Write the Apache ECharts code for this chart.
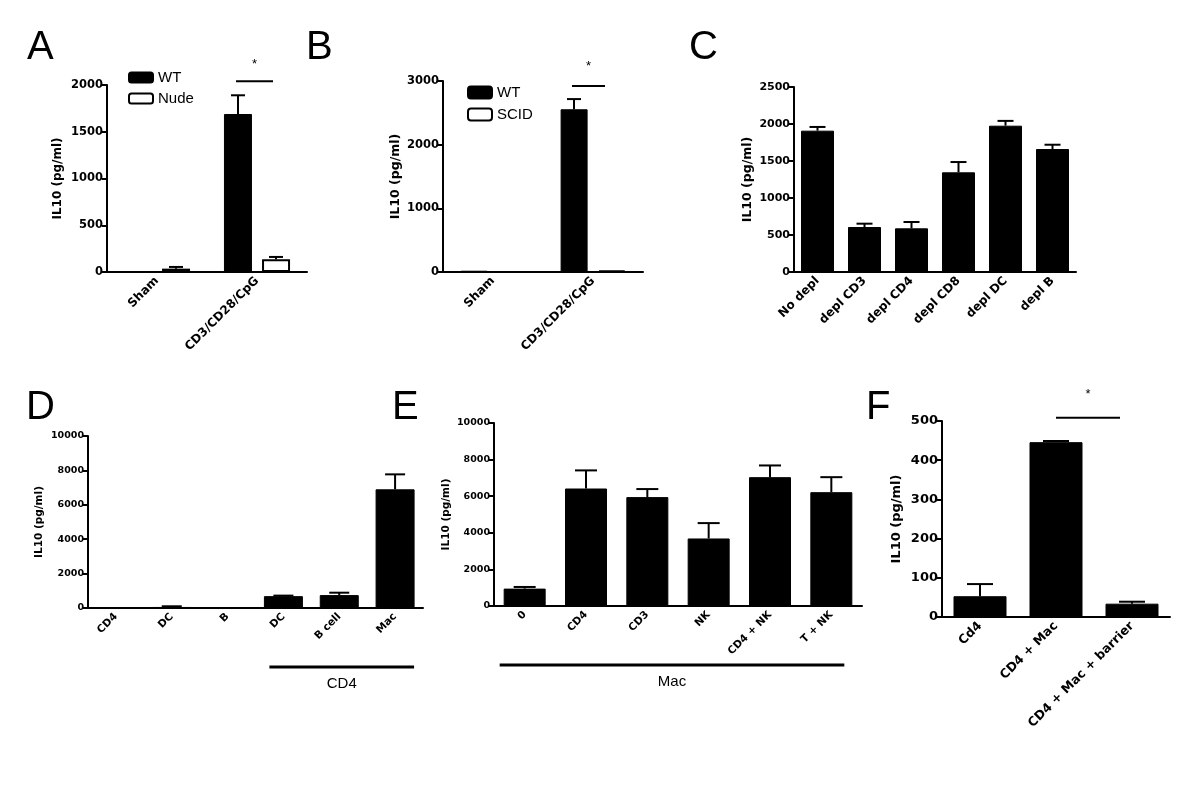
<!DOCTYPE html>
<html>
<head>
<meta charset="utf-8">
<script src="https://cdn.jsdelivr.net/npm/echarts@6/dist/echarts.min.js"></script>
<style>
  html, body { margin: 0; background: #fff; }
  #chart { width: 1200px; height: 794px; }
</style>
</head>
<body>
<div id="chart"></div>
<script>
// panel A
const catsA = ['Sham', 'CD3/CD28/CpG'];
const wtA = [0, 1690];
const wtAErr = [0, 200];
const nudeA = [36, 136];
const nudeAErr = [18, 25];
// panel B
const catsB = ['Sham', 'CD3/CD28/CpG'];
const wtB = [20, 2556];
const wtBErr = [0, 160];
const scidB = [0, 20];
const scidBErr = [0, 0];
// panel C
const catsC = ['No depl', 'depl CD3', 'depl CD4', 'depl CD8', 'depl DC', 'depl B'];
const valsC = [1910, 608, 590, 1347, 1977, 1662];
const errC = [50, 45, 86, 139, 65, 58];
// panel D
const catsD = ['CD4', 'DC', 'B', 'DC', 'B cell', 'Mac'];
const valsD = [0, 60, 0, 690, 750, 6900];
const errD = [0, 40, 0, 30, 140, 870];
// panel E
const catsE = ['0', 'CD4', 'CD3', 'NK', 'CD4 + NK', 'T + NK'];
const valsE = [950, 6420, 5950, 3690, 7040, 6220];
const errE = [90, 990, 440, 840, 640, 820];
// panel F
const catsF = ['Cd4', 'CD4 + Mac', 'CD4 + Mac + barrier'];
const valsF = [53, 446, 34];
const errF = [31, 3, 5];

const BOLD = 'DejaVu Sans';
const PLAIN = 'Liberation Sans';

const chart = echarts.init(document.getElementById('chart'));

function xAx(i, cats, fs, tick) {
  return {
    type: 'category', gridIndex: i, data: cats,
    axisLine: { lineStyle: { color: '#000', width: 2 } },
    axisTick: { alignWithLabel: true, length: tick, lineStyle: { color: '#000', width: 2 } },
    axisLabel: { rotate: 45, margin: 7, color: '#000', fontFamily: BOLD, fontWeight: 'bold', fontSize: fs, interval: 0 },
    splitLine: { show: false }
  };
}

function yAx(i, max, step, fs, nfs, gap) {
  return {
    type: 'value', gridIndex: i, min: 0, max: max, interval: step,
    name: 'IL10 (pg/ml)', nameLocation: 'middle', nameRotate: 90, nameGap: gap,
    nameTextStyle: { color: '#000', fontFamily: BOLD, fontWeight: 'bold', fontSize: nfs },
    axisLine: { show: true, lineStyle: { color: '#000', width: 2 } },
    axisTick: { show: true, length: 5, lineStyle: { color: '#000', width: 2 } },
    axisLabel: {
      margin: 4, color: '#000', fontFamily: BOLD, fontWeight: 'bold', fontSize: fs,
      formatter: function (v) { return String(v); }
    },
    splitLine: { show: false }
  };
}

function bars(i, name, vals, w, white, gapPct) {
  return {
    type: 'bar', name: name, xAxisIndex: i, yAxisIndex: i, data: vals,
    barWidth: w, barGap: gapPct || '30%', silent: true,
    itemStyle: white
      ? { color: '#fff', borderColor: '#000', borderWidth: 2 }
      : { color: '#000', borderColor: '#000', borderWidth: 1 }
  };
}

function errs(i, vals, ers, offset, cap) {
  return {
    type: 'custom', xAxisIndex: i, yAxisIndex: i, silent: true, z: 3,
    data: vals.map((v, k) => [k, v, ers[k]]),
    encode: { x: 0, y: 1 },
    renderItem: function (params, api) {
      const e = api.value(2);
      if (!(e > 0)) return null;
      const base = api.coord([api.value(0), api.value(1)]);
      const top = api.coord([api.value(0), api.value(1) + e]);
      const cx = base[0] + offset;
      const st = { stroke: '#000', lineWidth: 2 };
      return {
        type: 'group', children: [
          { type: 'line', shape: { x1: cx, y1: base[1], x2: cx, y2: top[1] }, style: st },
          { type: 'line', shape: { x1: cx - cap / 2, y1: top[1], x2: cx + cap / 2, y2: top[1] }, style: st }
        ]
      };
    }
  };
}

const legendText = { fontFamily: PLAIN, fontSize: 15, color: '#000' };

chart.setOption({
  animation: false,
  backgroundColor: '#fff',
  grid: [
    { left: 107, top: 85, width: 200, height: 187 },
    { left: 443, top: 81, width: 200, height: 191 },
    { left: 794, top: 87, width: 282, height: 185 },
    { left: 88, top: 436, width: 335, height: 172 },
    { left: 494, top: 423, width: 368, height: 183 },
    { left: 942, top: 421, width: 228, height: 196 }
  ],
  xAxis: [
    xAx(0, catsA, 12, 5), xAx(1, catsB, 12, 5), xAx(2, catsC, 12, 5),
    xAx(3, catsD, 10.5, 4), xAx(4, catsE, 10.5, 4), xAx(5, catsF, 12.5, 5)
  ],
  yAxis: [
    yAx(0, 2000, 500, 11.5, 12, 43), yAx(1, 3000, 1000, 11.5, 12.5, 41),
    yAx(2, 2500, 500, 11, 12.5, 40), yAx(3, 10000, 2000, 9.5, 10.5, 43),
    yAx(4, 10000, 2000, 9.5, 10.5, 42), yAx(5, 500, 100, 13, 13, 39)
  ],
  legend: [
    { left: 128, top: 70, padding: 0, orient: 'vertical', itemWidth: 24, itemHeight: 10, itemGap: 6,
      selectedMode: false, data: ['WT', 'Nude'], textStyle: legendText },
    { left: 467, top: 85, padding: 0, orient: 'vertical', itemWidth: 24, itemHeight: 12, itemGap: 7,
      selectedMode: false, data: ['WT', 'SCID'], textStyle: legendText }
  ],
  series: [
    bars(0, 'WT', wtA, 28, false, '36%'), bars(0, 'Nude', nudeA, 28, true, '36%'),
    errs(0, wtA, wtAErr, -19, 14), errs(0, nudeA, nudeAErr, 19, 14),
    bars(1, 'WT', wtB, 27, false, '40%'), bars(1, 'SCID', scidB, 27, true, '40%'),
    errs(1, wtB, wtBErr, -19, 14), errs(1, scidB, scidBErr, 19, 14),
    bars(2, 'C', valsC, 33), errs(2, valsC, errC, 0, 16),
    bars(3, 'D', valsD, 39), errs(3, valsD, errD, 0, 20),
    bars(4, 'E', valsE, 42), errs(4, valsE, errE, 0, 22),
    bars(5, 'F', valsF, 53), errs(5, valsF, errF, 0, 26)
  ]
});

// annotations placed through the axes' own scales
function px(g, cat, val) { return chart.convertToPixel({ gridIndex: g }, [cat, val]); }
const lineSt = { stroke: '#000', lineWidth: 2 };
const starSt = { fill: '#000', font: '13px "Liberation Sans"', align: 'center', verticalAlign: 'middle' };
const bigLetter = { fill: '#000', font: '40px "Liberation Sans"' };

const gfx = [];
function sig(g, x1, x2, val, up) {
  const y = px(g, 0, val)[1];
  gfx.push({ type: 'line', shape: { x1: x1, y1: y, x2: x2, y2: y }, style: lineSt });
  gfx.push({ type: 'text', x: (x1 + x2) / 2, y: y - up, style: Object.assign({ text: '*' }, starSt) });
}
const a1 = px(0, 1, 0)[0];
sig(0, a1 - 21, a1 + 16, 2040, 17);
const b1 = px(1, 1, 0)[0];
sig(1, b1 - 21, b1 + 12, 2921, 20);
sig(5, px(5, 1, 0)[0], px(5, 2, 0)[0] - 12, 508, 23);

function bracket(g, c1, c2, left, right, label) {
  const y = px(g, 0, 0)[1] + 59;
  const x1 = px(g, c1, 0)[0] - left, x2 = px(g, c2, 0)[0] + right;
  gfx.push({ type: 'line', shape: { x1: x1, y1: y, x2: x2, y2: y }, style: { stroke: '#000', lineWidth: 3 } });
  gfx.push({ type: 'text', x: (x1 + x2) / 2, y: y + 17, style: { text: label, fill: '#000', font: '15px "Liberation Sans"', align: 'center', verticalAlign: 'middle' } });
}
bracket(3, 3, 5, 14, 19, 'CD4');
bracket(4, 0, 5, 25, 13, 'Mac');

[['A', 27, 28], ['B', 306, 28], ['C', 689, 28], ['D', 26, 388], ['E', 392, 388], ['F', 866, 388]]
  .forEach(function (l) {
    gfx.push({ type: 'text', x: l[1], y: l[2], style: Object.assign({ text: l[0] }, bigLetter) });
  });

chart.setOption({ graphic: gfx });
</script>
</body>
</html>
